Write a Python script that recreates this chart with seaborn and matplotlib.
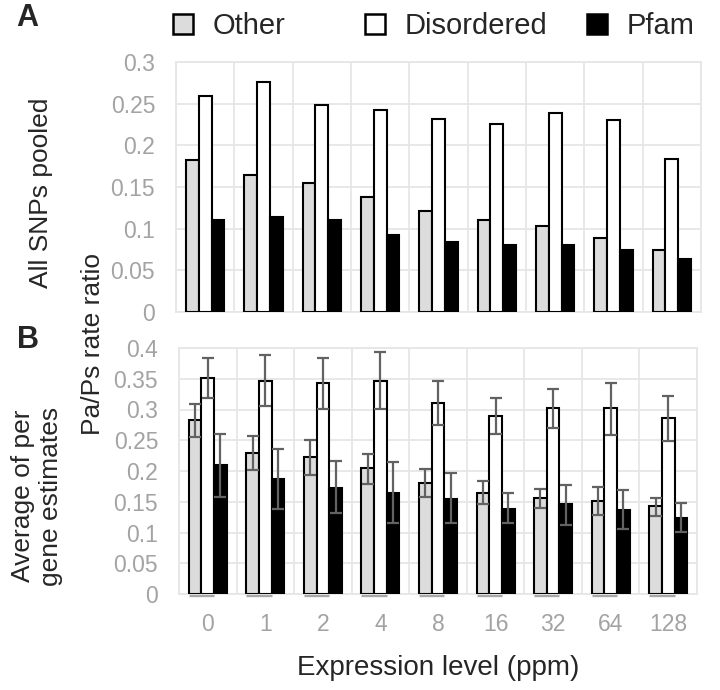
import matplotlib
matplotlib.use("Agg")
import matplotlib.pyplot as plt
from matplotlib.patches import Patch
from matplotlib.ticker import FixedLocator
import seaborn as sns
import pandas as pd
import numpy as np

# ---------------- data ----------------
levels = ['0', '1', '2', '4', '8', '16', '32', '64', '128']
types = ['Other', 'Disordered', 'Pfam']

pooled_other = [0.182, 0.164, 0.155, 0.138, 0.121, 0.110, 0.103, 0.089, 0.074]
pooled_disordered = [0.259, 0.276, 0.248, 0.243, 0.232, 0.226, 0.239, 0.230, 0.184]
pooled_pfam = [0.111, 0.114, 0.110, 0.093, 0.084, 0.080, 0.080, 0.074, 0.064]

pergene_other = [0.283, 0.230, 0.222, 0.205, 0.180, 0.165, 0.156, 0.151, 0.143]
pergene_disordered = [0.351, 0.347, 0.343, 0.347, 0.311, 0.290, 0.303, 0.302, 0.286]
pergene_pfam = [0.209, 0.187, 0.173, 0.164, 0.155, 0.139, 0.146, 0.136, 0.124]

other_lo = [0.255, 0.202, 0.193, 0.179, 0.158, 0.146, 0.140, 0.129, 0.127]
other_hi = [0.309, 0.257, 0.250, 0.228, 0.204, 0.184, 0.171, 0.174, 0.156]
dis_lo = [0.318, 0.306, 0.301, 0.301, 0.275, 0.260, 0.270, 0.259, 0.248]
dis_hi = [0.384, 0.388, 0.383, 0.393, 0.346, 0.319, 0.334, 0.343, 0.322]
pfam_lo = [0.157, 0.139, 0.131, 0.116, 0.115, 0.115, 0.113, 0.106, 0.101]
pfam_hi = [0.260, 0.236, 0.216, 0.215, 0.197, 0.165, 0.178, 0.169, 0.148]

yticks_top = [0, 0.05, 0.1, 0.15, 0.2, 0.25, 0.3]
yticks_bottom = [0, 0.05, 0.1, 0.15, 0.2, 0.25, 0.3, 0.35, 0.4]

# ---------------- style ----------------
sns.set_style("white")
plt.rcParams['font.family'] = ['Liberation Sans', 'DejaVu Sans']

colors = {'Other': '#dcdcdc', 'Disordered': '#ffffff', 'Pfam': '#000000'}
grid_c = '#e6e6e6'
tick_c = '#a3a3a3'
err_c = '#626262'

W, H = 720, 690
fig = plt.figure(figsize=(W / 100, H / 100), dpi=100)


def px_axes(l, t, r, b):
    return fig.add_axes([l / W, 1 - b / H, (r - l) / W, (b - t) / H])


ax_top = px_axes(176, 62, 701, 312)
ax_bot = px_axes(179, 348, 697, 594)


def long_df(o, d, p):
    rows = []
    for t, vals in zip(types, [o, d, p]):
        for lv, v in zip(levels, vals):
            rows.append({'level': lv, 'type': t, 'value': v})
    return pd.DataFrame(rows)


df_top = long_df(pooled_other, pooled_disordered, pooled_pfam)
df_bot = long_df(pergene_other, pergene_disordered, pergene_pfam)

for ax, df in [(ax_top, df_top), (ax_bot, df_bot)]:
    sns.barplot(data=df, x='level', y='value', hue='type', order=levels,
                hue_order=types, palette=colors, edgecolor='black',
                linewidth=1.5, width=0.66, errorbar=None, legend=False,
                ax=ax, zorder=3)

# error bars on bottom panel
los = [other_lo, dis_lo, pfam_lo]
his = [other_hi, dis_hi, pfam_hi]
for cont, lo, hi in zip(ax_bot.containers, los, his):
    xs = np.array([p.get_x() + p.get_width() / 2 for p in cont.patches])
    hs = np.array([p.get_height() for p in cont.patches])
    lo = np.array(lo)
    hi = np.array(hi)
    ax_bot.errorbar(xs, hs, yerr=[hs - lo, hi - hs], fmt='none',
                    ecolor=err_c, elinewidth=1.6, capsize=4, capthick=1.6,
                    zorder=4)

# grey base segments under Other+Disordered bars (bottom panel)
oth = ax_bot.containers[0].patches
dis = ax_bot.containers[1].patches
for po, pd_ in zip(oth, dis):
    ax_bot.hlines(-0.002, po.get_x(), pd_.get_x() + pd_.get_width(),
                  color='#a8a8a8', lw=2.4, zorder=2.5, clip_on=False)

for ax, yt in [(ax_top, yticks_top), (ax_bot, yticks_bottom)]:
    ax.set_xlim(-0.5, len(levels) - 0.5)
    ax.set_ylim(yt[0], yt[-1])
    ax.set_yticks(yt)
    ax.set_yticklabels(['{:g}'.format(v) for v in yt])
    ax.xaxis.set_minor_locator(FixedLocator(np.arange(-0.5, len(levels), 1.0)))
    ax.grid(True, axis='y', which='major', color=grid_c, lw=1.3, zorder=0)
    ax.grid(True, axis='x', which='minor', color=grid_c, lw=1.3, zorder=0)
    ax.grid(False, axis='x', which='major')
    ax.set_axisbelow(True)
    for s in ax.spines.values():
        s.set_color(grid_c)
        s.set_linewidth(1.3)
    ax.tick_params(axis='y', length=0, pad=15, labelsize=16.5, labelcolor=tick_c)
    ax.tick_params(axis='x', which='both', length=0)
    ax.set_xlabel('')
    ax.set_ylabel('')

ax_top.set_xticklabels([])
ax_bot.set_xticks(range(len(levels)))
ax_bot.set_xticklabels(levels)
ax_bot.tick_params(axis='x', pad=14, labelsize=16.5, labelcolor=tick_c)

# ---------------- texts ----------------
def ftext(x, y, s, **kw):
    fig.text(x / W, 1 - y / H, s, **kw)


ftext(27, 18, 'A', fontsize=22, fontweight='bold', ha='center', va='center')
ftext(28, 340, 'B', fontsize=22, fontweight='bold', ha='center', va='center')
ftext(41, 193, 'All SNPs pooled', fontsize=19, rotation=90,
      ha='center', va='center')
ftext(93, 344, 'Pa/Ps rate ratio', fontsize=19, rotation=90,
      ha='center', va='center')
ftext(37, 496, 'Average of per\ngene estimates', fontsize=19, rotation=90,
      ha='center', va='center', linespacing=1.25)
ftext(438, 668, 'Expression level (ppm)', fontsize=20, ha='center', va='center')

# ---------------- legend ----------------
leg_x = {'Other': 173, 'Disordered': 365, 'Pfam': 587}
for t in types:
    h = Patch(facecolor=colors[t], edgecolor='black', linewidth=1.8)
    fig.legend([h], [t], loc='center left',
               bbox_to_anchor=(leg_x[t] / W, 1 - 26 / H),
               frameon=False, fontsize=21, handlelength=0.68,
               handleheight=0.68, handletextpad=0.68, borderpad=0,
               borderaxespad=0)

fig.savefig('out.png', dpi=100)
